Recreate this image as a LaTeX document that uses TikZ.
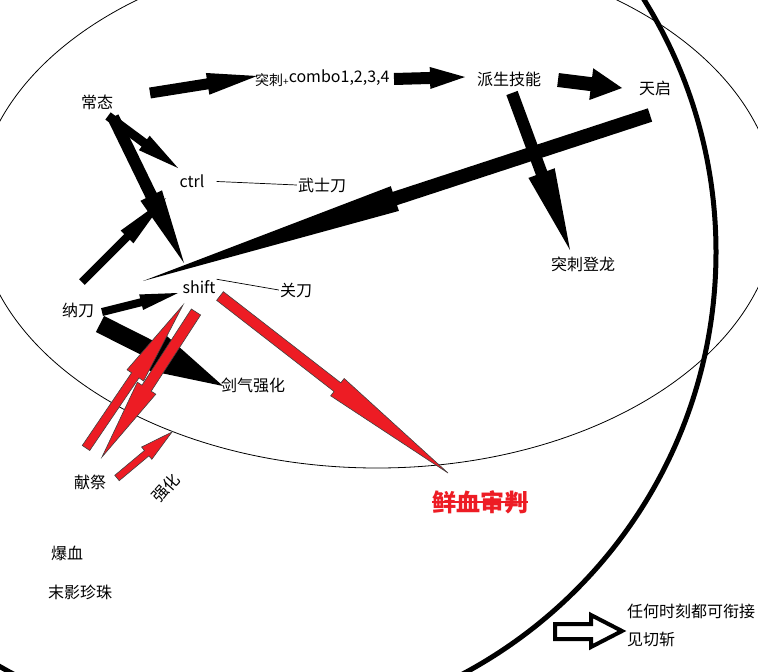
\documentclass[tikz,border=0pt]{standalone}
\usepackage{fontspec}
\setmainfont{Noto Sans CJK SC}
\usepackage{xcolor}
\usepackage{tikz}
\usetikzlibrary{calc}
\definecolor{xuehong}{RGB}{237,28,36}
% block arrow: [style]{from}{tip}{half shaft}{half head}{head length}
\newcommand{\blockarrow}[6][]{%
  \coordinate (hb) at ($(#3)!#6!(#2)$);
  \path[#1] ($(#2)!#4!90:(#3)$) -- ($(hb)!#4!90:(#3)$) -- ($(hb)!#5!90:(#3)$) -- (#3)
    -- ($(hb)!#5!-90:(#3)$) -- ($(hb)!#4!-90:(#3)$) -- ($(#2)!#4!-90:(#3)$) -- cycle;
}

\begin{document}
\begin{tikzpicture}[x=1pt, y=-1pt,
  txt/.style={font=\fontsize{16}{19}\selectfont, inner sep=1pt},
  blk/.style={fill=black},
  hong/.style={fill=xuehong, draw=black!75, line width=0.6pt},
  thinline/.style={line width=0.7pt}
]
\useasboundingbox (0,0) rectangle (758,672);
\clip (0,0) rectangle (758,672);
\fill[white] (0,0) rectangle (758,672);

% Elipse y circulo
\draw[line width=0.8pt] (377,208) ellipse [x radius=400pt, y radius=260pt];
\draw[line width=5pt] (238,252) circle [radius=478pt];

% Nodos
\node[txt] (changtai) at (97,102) {常态};
\node[txt, anchor=base west] (combo) at (254,82)
  {\raisebox{-3.5pt}{\fontsize{14}{14}\selectfont 突刺\fontsize{10}{10}\selectfont +}combo1,2,3,4};
\node[txt] (paisheng) at (509,79) {派生技能};
\node[txt] (tianqi) at (655,88) {天启};
\node[txt] (ctrl) at (192,181) {ctrl};
\node[txt] (wushidao) at (322,185) {武士刀};
\node[txt] (dengl) at (583,264) {突刺登龙};
\node[txt] (shift) at (199,287) {shift};
\node[txt] (guandao) at (296,290) {关刀};
\node[txt] (nadao) at (78,310) {纳刀};
\node[txt] (jianqi) at (253,385) {剑气强化};
\node[txt] (xianji) at (90,482) {献祭};
\node[txt, rotate=48] (qianghua) at (166,488) {强化};
\node[txt] (baoxue) at (67,553) {爆血};
\node[txt] (moying) at (80,592) {末影珍珠};
\node[txt, font=\fontsize{24}{28}\selectfont\bfseries, text=xuehong, inner sep=0pt]
  (xianxue) at (480,502) {鲜血审判};
\node[txt, font=\fontsize{16}{28}\selectfont, anchor=north west, align=left]
  (note) at (626,603) {任何时刻都可衔接\\见切斩};

% Lineas finas
\draw[thinline, shorten <=11pt] (ctrl.east) -- (wushidao.west);
\draw[thinline] (shift.north east) -- (guandao.west);
\draw[xuehong, line width=1.2pt] (xianxue.west) -- (xianxue.east);

% Puntos de flechas
\coordinate (a1s) at (150,93);  \coordinate (a1e) at (257,76);
\coordinate (a2s) at (394,79);  \coordinate (a2e) at (465,77);
\coordinate (a3s) at (558,80);  \coordinate (a3e) at (622,88);
\coordinate (a4s) at (512,93);  \coordinate (a4e) at (570,250);
\coordinate (a5s) at (650,115); \coordinate (a5e) at (143,281);
\coordinate (a6s) at (108,116); \coordinate (a6e) at (178,168);
\coordinate (a7s) at (113,117); \coordinate (a7e) at (184,263);
\coordinate (a8s) at (82,282);  \coordinate (a8e) at (166,198);
\coordinate (a9s) at (102,312); \coordinate (a9e) at (178,293);
\coordinate (a10s) at (100,324); \coordinate (a10e) at (223,386);
\coordinate (r1s) at (220,296); \coordinate (r1e) at (448,473);
\coordinate (r2s) at (86,448);  \coordinate (r2e) at (183,305);
\coordinate (r3s) at (196,312); \coordinate (r3e) at (102,457);
\coordinate (r4s) at (117,478); \coordinate (r4e) at (172,432);

% Flechas negras
\blockarrow[blk]{a1s}{a1e}{5.5pt}{11pt}{50pt}
\blockarrow[blk]{a2s}{a2e}{6pt}{11pt}{35pt}
\blockarrow[blk]{a3s}{a3e}{7pt}{16pt}{31pt}
\blockarrow[blk]{a4s}{a4e}{6pt}{14pt}{82pt}
\blockarrow[blk]{a5s}{a5e}{7pt}{13pt}{265pt}
\blockarrow[blk]{a6s}{a6e}{4.5pt}{9pt}{42pt}
\blockarrow[blk]{a7s}{a7e}{6pt}{12pt}{75pt}
\blockarrow[blk]{a8s}{a8e}{4pt}{9pt}{55pt}
\blockarrow[blk]{a9s}{a9e}{4pt}{8pt}{38pt}
\blockarrow[blk]{a10s}{a10e}{9pt}{20pt}{75pt}

% Flechas rojas
\blockarrow[hong]{r1s}{r1e}{5.5pt}{11pt}{140pt}
\blockarrow[hong]{r2s}{r2e}{4.5pt}{10pt}{85pt}
\blockarrow[hong]{r3s}{r3e}{5.5pt}{11pt}{82pt}
\blockarrow[hong]{r4s}{r4e}{3.5pt}{8pt}{33pt}

% Flecha hueca
\coordinate (hollow) at (555,632);
\draw[line width=4pt] (hollow) ++(0,-8) -- ++(36,0) -- ++(0,-9) -- ++(31,16)
  -- ++(-31,16) -- ++(0,-8) -- ++(-36,0) -- cycle;
\end{tikzpicture}
\end{document}
